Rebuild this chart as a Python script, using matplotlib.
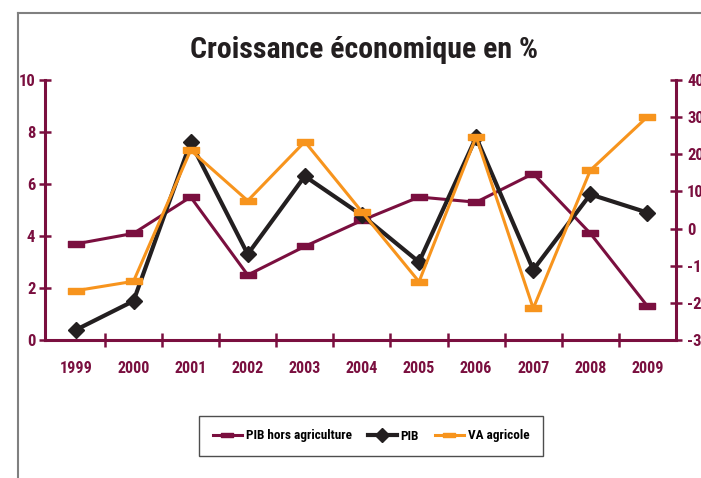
import numpy as np
import matplotlib.pyplot as plt
from matplotlib.lines import Line2D
from matplotlib.path import Path

years = ['1999', '2000', '2001', '2002', '2003', '2004', '2005', '2006', '2007', '2008', '2009']
pib_hors_agri = [3.7, 4.1, 5.5, 2.5, 3.6, 4.6, 5.5, 5.3, 6.4, 4.1, 1.3]
pib = [0.4, 1.5, 7.6, 3.3, 6.3, 4.8, 3.0, 7.8, 2.7, 5.6, 4.9]
va_agricole = [-16.7, -14.2, 21.1, 7.5, 23.4, 4.5, -14.3, 24.7, -21.5, 15.7, 30.1]

MAROON = '#7a0f3f'
BLACK = '#231f20'
ORANGE = '#f7941d'

plt.rcParams['font.family'] = ['Roboto Condensed', 'Archivo Narrow', 'Barlow Semi Condensed', 'DejaVu Sans']
plt.rcParams['font.weight'] = 'bold'
plt.rcParams['axes.unicode_minus'] = False

# flat rectangle marker like the Excel dash
dash = Path([(-1, -0.42), (1, -0.42), (1, 0.42), (-1, 0.42), (-1, -0.42)],
            [Path.MOVETO, Path.LINETO, Path.LINETO, Path.LINETO, Path.CLOSEPOLY])


def main():
    fig = plt.figure(figsize=(7.01, 4.78), dpi=100)
    ax = fig.add_axes([45 / 701, 138 / 478, 631 / 701, 260 / 478])
    ax2 = ax.twinx()

    x = np.arange(len(years))
    ax.plot(x, pib_hors_agri, color=MAROON, lw=2.2, marker=dash, ms=11, zorder=3)
    ax.plot(x, pib, color=BLACK, lw=3, marker='D', ms=8, zorder=4)
    ax2.plot(x, va_agricole, color=ORANGE, lw=2.2, marker=dash, ms=11, zorder=3)

    ax.set_xlim(-0.55, 10.5)
    ax.set_ylim(0, 10)
    ax2.set_ylim(-30, 40)
    ax.set_yticks(range(0, 11, 2))
    ax2.set_yticks(range(-30, 41, 10))
    ax.set_xticks(x)
    ax.set_xticklabels(years)
    ax.set_xticks(np.arange(0.5, 10.5, 1), minor=True)

    for a in (ax, ax2):
        for s in a.spines.values():
            s.set_visible(False)
    ax.spines['left'].set_visible(True)
    ax.spines['bottom'].set_visible(True)
    ax2.spines['right'].set_visible(True)
    for s in (ax.spines['left'], ax.spines['bottom'], ax2.spines['right']):
        s.set_color(MAROON)
        s.set_linewidth(2.2)

    ax.tick_params(axis='x', which='major', length=0, pad=15, labelsize=11.5, labelcolor=MAROON)
    ax.tick_params(axis='x', which='minor', direction='inout', length=10, width=1.8, color=MAROON)
    ax.tick_params(axis='y', direction='inout', length=8, width=1.8, color=MAROON,
                   labelsize=12, labelcolor=MAROON, pad=3)
    ax2.tick_params(axis='y', direction='inout', length=8, width=1.8, color=MAROON,
                    labelsize=12, labelcolor=MAROON, pad=4)

    fig.text(364 / 701, 1 - 50 / 478, 'Croissance économique en %', ha='center', va='center',
             fontsize=21.5, fontweight='bold', color=BLACK)

    handles = [
        Line2D([], [], color=MAROON, lw=2.2, marker=dash, ms=8),
        Line2D([], [], color=BLACK, lw=3, marker='D', ms=7),
        Line2D([], [], color=ORANGE, lw=2.2, marker=dash, ms=8),
    ]
    leg = fig.legend(handles, ['PIB hors agriculture', 'PIB', 'VA agricole'], ncol=3,
                     loc='center', bbox_to_anchor=(371 / 701, 1 - 436 / 478),
                     frameon=True, fancybox=False, fontsize=9.5, handlelength=2.2,
                     columnspacing=1.2, handletextpad=0.3, borderpad=1.05, borderaxespad=0)
    leg.get_frame().set_edgecolor('#222222')
    leg.get_frame().set_linewidth(1.0)

    # page frame lines
    fig.add_artist(Line2D([18 / 701, 18 / 701], [0, 1 - 13 / 478], color='#808080', lw=1.5))
    fig.add_artist(Line2D([18 / 701, 1], [1 - 13 / 478, 1 - 13 / 478], color='#808080', lw=1.5))

    fig.savefig('out.png', dpi=100)


if __name__ == "__main__":
    main()
